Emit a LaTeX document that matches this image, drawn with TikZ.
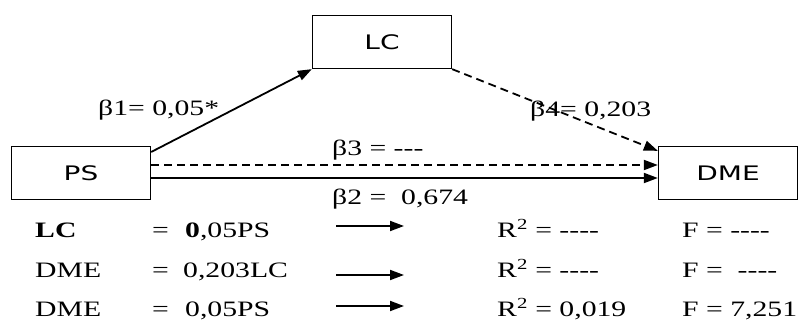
\documentclass[tikz,border=0pt]{standalone}
\usepackage{fontspec}
\setmainfont{Liberation Serif}[FakeStretch=1.35]
\newfontfamily\boxfont{DejaVu Sans}[FakeStretch=1.4]
\usetikzlibrary{arrows.meta}

\begin{document}
\begin{tikzpicture}[x=1pt, y=-1pt,
  box/.style={rectangle, draw=black, line width=1.3pt, minimum width=139pt,
              minimum height=53pt, font=\boxfont\fontsize{20}{24}\selectfont},
  arr/.style={-{Triangle[length=14pt,width=10pt]}, line width=1.8pt},
  dashline/.style={dash pattern=on 8pt off 5pt},
  lbl/.style={inner sep=0pt, anchor=base west, font=\fontsize{22}{26}\selectfont}
]
\useasboundingbox (0,0) rectangle (799,323);

\node[box] (lc) at (382,42) {LC};
\node[box] (ps) at (81,173) {PS};
\node[box] (dme) at (728,173) {DME};

\draw[arr] ([yshift=21pt]ps.east) -- (lc.south west);
\draw[arr, dashline] (lc.south east) -- ([yshift=-5pt]dme.north west);
\draw[arr, dashline] ([yshift=8pt]ps.east) -- ([yshift=8pt]dme.west);
\draw[arr] ([yshift=-5pt]ps.east) -- ([yshift=-5pt]dme.west);

\node[lbl] (b1) at (98,116) {β1= 0,05*};
\node[lbl] (b4) at (530,117) {β4= 0,203};
\node[lbl] (b3) at (332,156) {β3 = -{}-{}-};
\node[lbl] (b2) at (332,204) {β2 =\ \ 0,674};

\node[lbl] (lhs1) at (35,237) {\textbf{LC}};
\node[lbl] (eq1) at (152,237) {=};
\node[lbl] (rhs1) at (185,237) {\textbf{0},05PS};
\node[lbl] (rsq1) at (497,237) {R\textsuperscript{2} = -{}-{}-{}-};
\node[lbl] (f1) at (682,237) {F = -{}-{}-{}-};

\node[lbl] (lhs2) at (35,277) {DME};
\node[lbl] (eq2) at (152,277) {=};
\node[lbl] (rhs2) at (183,277) {0,203LC};
\node[lbl] (rsq2) at (497,277) {R\textsuperscript{2} = -{}-{}-{}-};
\node[lbl] (f2) at (682,277) {F =\ \ -{}-{}-{}-};

\node[lbl] (lhs3) at (35,316) {DME};
\node[lbl] (eq3) at (152,316) {=};
\node[lbl] (rhs3) at (185,316) {0,05PS};
\node[lbl] (rsq3) at (497,316) {R\textsuperscript{2} = 0,019};
\node[lbl] (f3) at (682,316) {F = 7,251};

\coordinate (s1) at (336,226);
\coordinate (e1) at (404,226);
\coordinate (s2) at (336,275);
\coordinate (e2) at (404,275);
\coordinate (s3) at (336,306);
\coordinate (e3) at (404,306);
\draw[arr] (s1) -- (e1);
\draw[arr] (s2) -- (e2);
\draw[arr] (s3) -- (e3);
\end{tikzpicture}
\end{document}
